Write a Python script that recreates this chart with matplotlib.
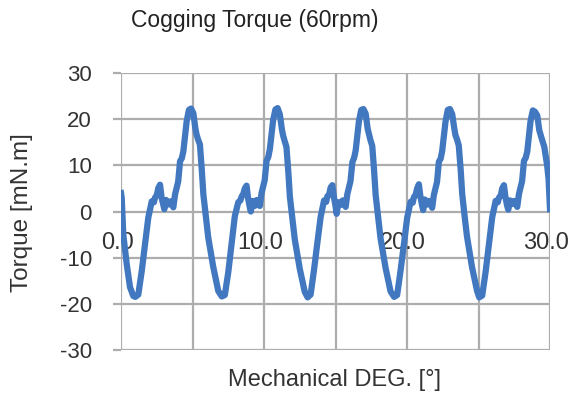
import numpy as np
import matplotlib
matplotlib.use('Agg')
import matplotlib.pyplot as plt
from matplotlib.transforms import ScaledTranslation

plt.rcParams['font.family'] = ['Liberation Sans', 'DejaVu Sans']
plt.rcParams['axes.unicode_minus'] = False

# cogging torque trace
deg = [0.00, 0.05, 0.16, 0.40, 0.63, 0.86,
       1.00, 1.21, 1.45, 1.68, 1.91, 2.15, 2.30, 2.38, 2.50, 2.61, 2.73, 2.84, 2.95, 3.03,
       3.15, 3.30, 3.45, 3.66, 3.78, 4.00, 4.13, 4.25, 4.36, 4.59, 4.75, 4.90, 5.06, 5.20,
       5.29, 5.40, 5.52, 5.65, 5.76, 5.95, 6.10, 6.45, 6.80,
       7.05, 7.26, 7.50, 7.73, 7.96, 8.20, 8.35, 8.43, 8.55, 8.66, 8.78, 8.89, 9.00, 9.08,
       9.20, 9.35, 9.50, 9.71, 9.83, 10.05, 10.18, 10.30, 10.41, 10.64, 10.80, 10.95, 11.11,
       11.25, 11.34, 11.45, 11.57, 11.70, 11.81, 12.00, 12.15, 12.50, 12.85,
       13.05, 13.26, 13.50, 13.73, 13.96, 14.20, 14.35, 14.43, 14.55, 14.66, 14.78, 14.89,
       15.00, 15.08, 15.20, 15.35, 15.50, 15.71, 15.83, 16.05, 16.18, 16.30, 16.41, 16.64,
       16.80, 16.95, 17.11, 17.25, 17.34, 17.45, 17.57, 17.70, 17.81, 18.00, 18.15, 18.50, 18.85,
       19.10, 19.31, 19.55, 19.78, 20.01, 20.25, 20.40, 20.48, 20.60, 20.71, 20.83, 20.94,
       21.05, 21.13, 21.25, 21.40, 21.55, 21.76, 21.88, 22.10, 22.23, 22.35, 22.46, 22.69,
       22.85, 23.00, 23.16, 23.30, 23.39, 23.50, 23.62, 23.75, 23.86, 24.05, 24.20, 24.55, 24.90,
       25.05, 25.26, 25.50, 25.73, 25.96, 26.20, 26.35, 26.43, 26.55, 26.66, 26.78, 26.89,
       27.00, 27.08, 27.20, 27.35, 27.50, 27.71, 27.83, 28.05, 28.18, 28.30, 28.41, 28.64,
       28.80, 28.95, 29.11, 29.25, 29.40, 29.60, 29.80, 29.90, 30.00]
torque = [4.0, 3.0, -5.0, -11.4, -16.4, -18.3,
          -18.5, -18.0, -12.9, -7.1, -1.3, 2.2, 2.0, 3.0, 3.5, 5.1, 5.8, 3.0, 1.5, 0.5,
          2.5, 1.5, 2.2, 0.9, 3.7, 6.5, 10.9, 11.5, 13.0, 19.5, 22.0, 22.3, 21.3, 18.0,
          16.6, 15.5, 14.5, 9.0, 3.7, -1.5, -5.6, -12.0, -17.2,
          -18.4, -18.1, -13.2, -7.0, -1.0, 2.0, 2.4, 3.2, 3.8, 5.0, 5.6, 2.8, 1.0, 0.0,
          2.3, 1.2, 2.5, 1.2, 4.0, 6.8, 11.0, 11.8, 13.5, 19.8, 22.1, 22.4, 21.0,
          17.8, 16.4, 15.2, 14.0, 8.6, 3.2, -2.0, -6.0, -12.4, -17.4,
          -18.6, -18.0, -12.6, -6.8, -1.2, 2.4, 2.1, 3.3, 3.6, 5.2, 5.7, 3.1,
          1.2, -0.5, 2.0, 1.4, 2.4, 1.0, 3.8, 6.6, 10.7, 11.6, 13.2, 19.6,
          22.0, 22.2, 21.2, 17.9, 16.8, 15.4, 14.2, 8.8, 3.5, -1.8, -5.8, -12.2, -17.3,
          -18.5, -18.1, -12.8, -7.2, -1.4, 2.1, 1.9, 3.1, 3.6, 5.0, 5.9, 3.2,
          1.4, 0.3, 2.6, 1.5, 2.3, 0.8, 3.6, 6.4, 10.8, 11.4, 13.1, 19.4,
          22.0, 22.2, 21.1, 18.1, 16.5, 15.6, 14.3, 9.2, 3.8, -1.6, -5.5, -12.1, -17.2,
          -18.6, -18.2, -13.0, -7.0, -1.2, 2.3, 2.0, 3.0, 3.4, 5.0, 5.7, 3.0,
          1.3, 0.4, 2.4, 1.6, 2.3, 1.0, 3.8, 6.6, 11.0, 11.6, 13.0, 19.6,
          21.9, 21.6, 20.8, 17.6, 16.0, 14.0, 10.0, 7.0, 0.5]

x_label_ticks = [0, 10, 20, 30]
x_grid = [0, 5, 10, 15, 20, 25, 30]
y_ticks = [-30, -20, -10, 0, 10, 20, 30]

grid_col = '#ADADAD'
text_col = '#333333'

fig = plt.figure(figsize=(5.72, 3.97), dpi=100)
ax = fig.add_axes([121 / 572, 1 - 350 / 397, 429 / 572, 277 / 397])
ax.plot(deg, torque, color='#4178C0', lw=4.5, solid_joinstyle='round')

ax.set_xlim(0, 30)
ax.set_ylim(-30, 30)
ax.set_xticks(x_label_ticks)
ax.set_xticklabels([f'{t:.1f}' for t in x_label_ticks])
ax.set_xticks(x_grid, minor=True)
ax.set_yticks(y_ticks)
ax.set_axisbelow(True)
ax.grid(True, which='both', axis='x', color=grid_col, lw=1.6)
ax.grid(True, which='major', axis='y', color=grid_col, lw=1.6)

for s in ax.spines.values():
    s.set_visible(False)
# x labels sit on the zero line, Excel style
ax.spines['bottom'].set_position(('data', 0))

ax.tick_params(axis='x', which='both', length=0, pad=15, labelsize=17, labelcolor=text_col)
ax.tick_params(axis='y', length=6, width=1.6, color=grid_col, pad=15, labelsize=16,
               labelcolor=text_col)
shift = ScaledTranslation(-4 / 100, 0, fig.dpi_scale_trans)
for lbl in ax.get_xticklabels():
    lbl.set_transform(lbl.get_transform() + shift)

fig.text(255 / 572, 1 - 20 / 397, 'Cogging Torque (60rpm)', ha='center', va='center',
         fontsize=16.5, color='#222222')
fig.text(335 / 572, 1 - 380 / 397, 'Mechanical DEG. [°]', ha='center', va='center',
         fontsize=17, color=text_col)
fig.text(22 / 572, 1 - 213 / 397, 'Torque [mN.m]', ha='center', va='center', rotation=90,
         fontsize=17.5, color=text_col)

fig.savefig('out.png', dpi=100)
